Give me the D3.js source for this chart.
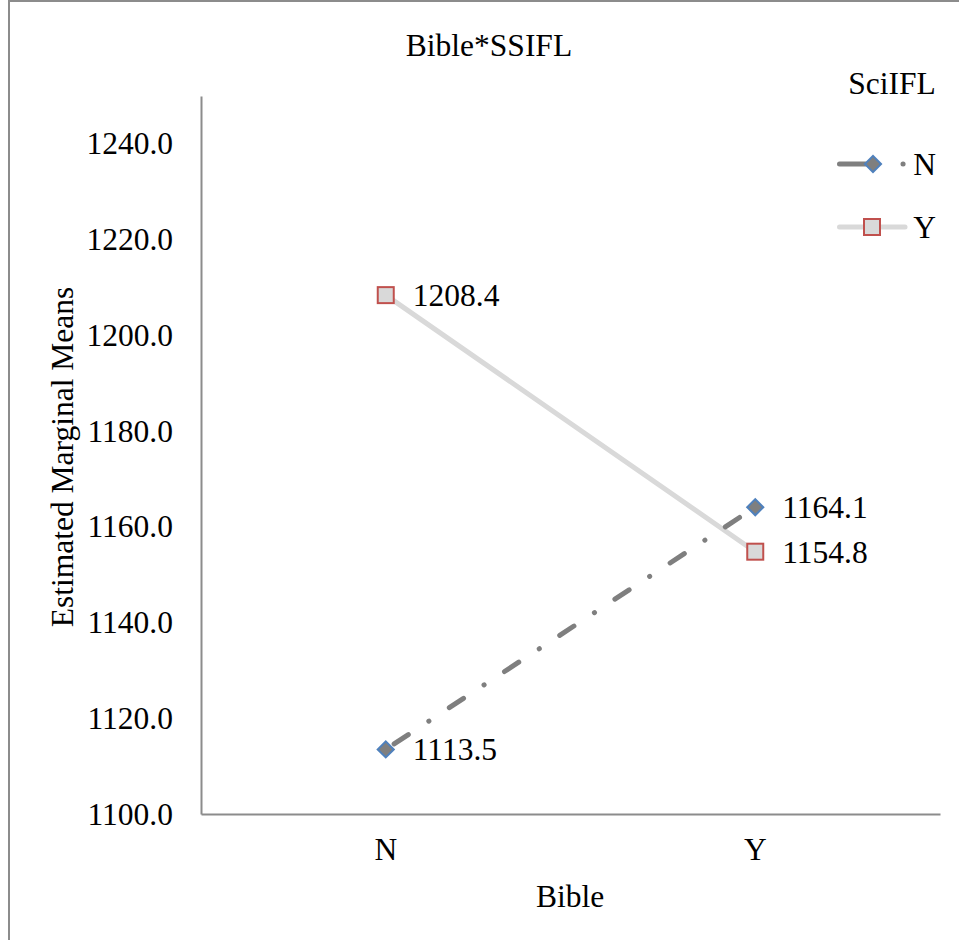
<!DOCTYPE html>
<html>
<head>
<meta charset="utf-8">
<style>
  body { margin: 0px; background: #fff; }
  text { font-family: "Liberation Serif", "Times New Roman", serif; fill: #000; }
</style>
</head>
<body>
<script src="https://cdn.jsdelivr.net/npm/d3@7"></script>
<script>
  // *** DATA ***
  var categories = ["N", "Y"];               // Bible
  var seriesNames = ["N", "Y"];              // SciIFL
  var valuesN = [1113.5, 1164.1];
  var valuesY = [1208.4, 1154.8];
  var yTicks = [1100, 1120, 1140, 1160, 1180, 1200, 1220, 1240];

  var W = 959, H = 940;
  var fs = 31.5;

  var svg = d3.select("body").append("svg")
    .attr("width", W)
    .attr("height", H);

  // outer frame
  svg.append("rect")
    .attr("x", 9).attr("y", 1)
    .attr("width", W + 10).attr("height", H + 10)
    .style("fill", "none")
    .style("stroke", "#8c8c8c")
    .style("stroke-width", 2);

  // *** SCALES ***
  var x = d3.scaleBand().domain(categories).range([201, 940]);
  var y = d3.scaleLinear().domain([1100, 1250]).range([814, 96]);

  // axes
  var yAxis = svg.append("g")
    .attr("transform", "translate(201,0)")
    .call(d3.axisLeft(y).tickValues(yTicks).tickSize(0).tickPadding(28)
      .tickFormat(d3.format(".1f")));
  yAxis.select(".domain").style("stroke", "#8c8c8c").style("stroke-width", 2);
  yAxis.selectAll("text").style("font-size", fs + "px");

  var xAxis = svg.append("g")
    .attr("transform", "translate(0,814)")
    .call(d3.axisBottom(x).tickSize(0).tickPadding(24));
  xAxis.select(".domain").style("stroke", "#8c8c8c").style("stroke-width", 2);
  xAxis.selectAll("text").style("font-size", fs + "px");

  // titles
  svg.append("text")
    .attr("x", 489).attr("y", 45).attr("dy", "0.35em")
    .attr("text-anchor", "middle")
    .style("font-size", fs + "px")
    .text("Bible*SSIFL");

  svg.append("text")
    .attr("x", 570).attr("y", 896).attr("dy", "0.35em")
    .attr("text-anchor", "middle")
    .style("font-size", fs + "px")
    .text("Bible");

  svg.append("text")
    .attr("transform", "translate(62,457) rotate(-90)")
    .attr("dy", "0.35em")
    .attr("text-anchor", "middle")
    .style("font-size", fs + "px")
    .text("Estimated Marginal Means");

  // *** SERIES ***
  var line = d3.line()
    .x(function(d, i){ return x(categories[i]) + x.bandwidth() / 2; })
    .y(function(d){ return y(d); });

  svg.append("path")
    .datum(valuesY)
    .attr("d", line)
    .style("fill", "none")
    .style("stroke", "#d9d9d9")
    .style("stroke-width", 5)
    .style("stroke-linecap", "round");

  svg.append("path")
    .datum(valuesN)
    .attr("d", line)
    .style("fill", "none")
    .style("stroke", "#7f7f7f")
    .style("stroke-width", 5)
    .style("stroke-linecap", "round")
    .style("stroke-dasharray", "17,24.5,0.1,24.4")
    .style("stroke-dashoffset", -10);

  var diamond = d3.symbol().type(d3.symbolSquare).size(130);

  // markers N
  svg.selectAll(".mN").data(valuesN).enter()
    .append("path")
    .attr("d", diamond)
    .attr("transform", function(d, i){
      return "translate(" + (x(categories[i]) + x.bandwidth() / 2) + "," + y(d) + ") rotate(45)";
    })
    .style("fill", "#7f7f7f")
    .style("stroke", "#4f81bd")
    .style("stroke-width", 2);

  // markers Y
  svg.selectAll(".mY").data(valuesY).enter()
    .append("rect")
    .attr("x", function(d, i){ return x(categories[i]) + x.bandwidth() / 2 - 8; })
    .attr("y", function(d){ return y(d) - 8; })
    .attr("width", 16).attr("height", 16)
    .style("fill", "#d9d9d9")
    .style("stroke", "#c0504d")
    .style("stroke-width", 2);

  // data labels
  var fmt = d3.format(".1f");
  [valuesN, valuesY].forEach(function(vals){
    svg.selectAll(null).data(vals).enter()
      .append("text")
      .attr("x", function(d, i){ return x(categories[i]) + x.bandwidth() / 2 + 27; })
      .attr("y", function(d){ return y(d); })
      .attr("dy", "0.35em")
      .style("font-size", fs + "px")
      .text(function(d){ return fmt(d); });
  });

  // *** LEGEND ***
  svg.append("text")
    .attr("x", 892).attr("y", 83).attr("dy", "0.35em")
    .attr("text-anchor", "middle")
    .style("font-size", fs + "px")
    .text("SciIFL");

  var legY = [164, 227];

  svg.append("line")
    .attr("x1", 839.5).attr("x2", 904).attr("y1", legY[0]).attr("y2", legY[0])
    .style("stroke", "#7f7f7f").style("stroke-width", 5)
    .style("stroke-linecap", "round")
    .style("stroke-dasharray", "26,37.5,0.1,100");
  svg.append("path")
    .attr("d", diamond)
    .attr("transform", "translate(873," + legY[0] + ") rotate(45)")
    .style("fill", "#7f7f7f").style("stroke", "#4f81bd").style("stroke-width", 2);

  svg.append("line")
    .attr("x1", 839.5).attr("x2", 905).attr("y1", legY[1]).attr("y2", legY[1])
    .style("stroke", "#d9d9d9").style("stroke-width", 5)
    .style("stroke-linecap", "round");
  svg.append("rect")
    .attr("x", 864).attr("y", legY[1] - 8).attr("width", 16).attr("height", 16)
    .style("fill", "#d9d9d9").style("stroke", "#c0504d").style("stroke-width", 2);

  svg.selectAll(".legText").data(seriesNames).enter()
    .append("text")
    .attr("x", 936)
    .attr("y", function(d, i){ return legY[i]; })
    .attr("dy", "0.35em")
    .attr("text-anchor", "end")
    .style("font-size", fs + "px")
    .text(function(d){ return d; });
</script>
</body>
</html>
